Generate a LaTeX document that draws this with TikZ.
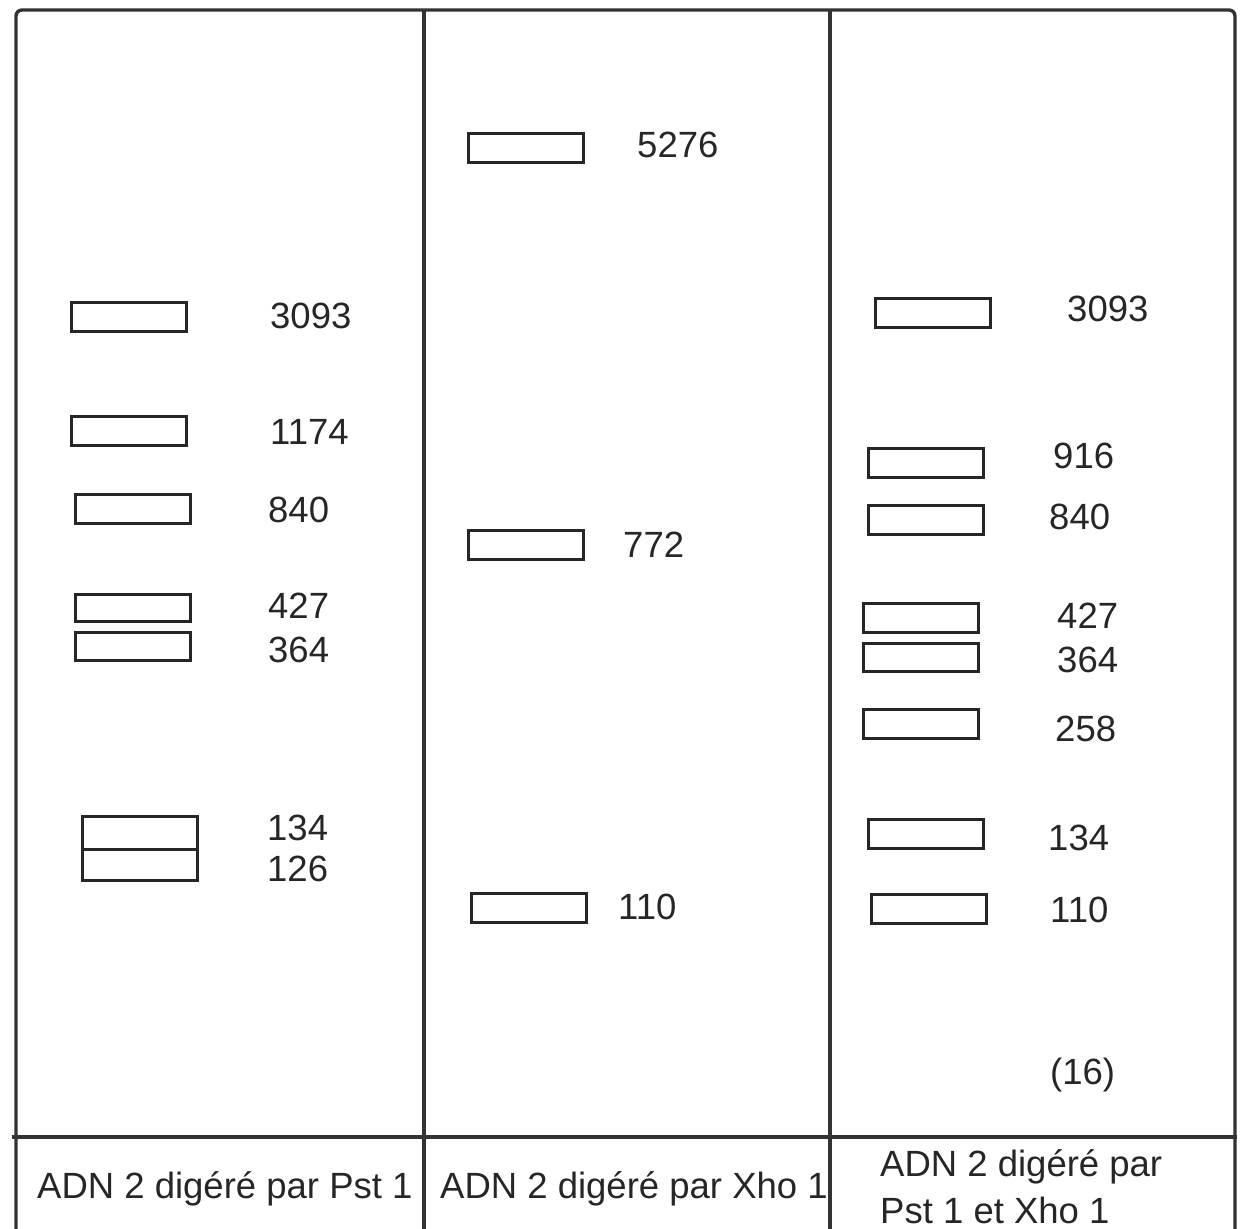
\documentclass[tikz,border=0pt]{standalone}
\usepackage{fontspec}
\setmainfont{Liberation Sans}
\begin{document}
\begin{tikzpicture}[x=1pt,y=-1pt,
  band/.style={draw=black!85,line width=3pt,minimum width=115pt,minimum height=29pt,inner sep=0pt,outer sep=0pt},
  num/.style={anchor=west,inner sep=0pt,font=\fontsize{36.5}{40}\selectfont,text=black!85},
  lab/.style={anchor=base west,inner sep=0pt,font=\fontsize{36.5}{42}\selectfont,text=black!85},
  frame/.style={line width=3.4pt,draw=black!80}]
\useasboundingbox (0,0) rectangle (1243,1229);
% frame
\coordinate (tl) at (16,10);
\coordinate (tr) at (1235,10);
\coordinate (bl) at (16,1229);
\coordinate (br) at (1235,1229);
\coordinate (d1t) at (424,10);
\coordinate (d1b) at (424,1229);
\coordinate (d2t) at (830,10);
\coordinate (d2b) at (830,1229);
\coordinate (hl) at (12,1137);
\coordinate (hr) at (1237,1137);
\draw[frame,rounded corners=6pt] (bl) -- (tl) -- (tr) -- (br);
\draw[frame] (d1t) -- (d1b);
\draw[frame] (d2t) -- (d2b);
\draw[frame] (hl) -- (hr);
% lane 1
\node[band] (a1) at (128.5,316.5) {};
\node[band] (a2) at (128.5,430.5) {};
\node[band] (a3) at (132.5,508.5) {};
\node[band,minimum height=27pt] (a4) at (132.5,607.5) {};
\node[band,minimum height=28pt] (a5) at (132.5,646) {};
\node[band,minimum height=33pt] (a6) at (139.5,832.5) {};
\node[band,minimum height=31pt] (a7) at (139.5,864.5) {};
\node[num] (la1) at (270,316) {3093};
\node[num] (la2) at (270,432) {1174};
\node[num] (la3) at (268,510) {840};
\node[num] (la4) at (268,606) {427};
\node[num] (la5) at (268,650) {364};
\node[num] (la6) at (267,828) {134};
\node[num] (la7) at (267,869) {126};
% lane 2
\node[band] (b1) at (525.5,148) {};
\node[band] (b2) at (525.5,544.5) {};
\node[band] (b3) at (528.5,908) {};
\node[num] (lb1) at (637,145) {5276};
\node[num] (lb2) at (623,545) {772};
\node[num] (lb3) at (618,907) {110};
% lane 3
\node[band] (c1) at (932.5,313) {};
\node[band] (c2) at (925.5,462.5) {};
\node[band] (c3) at (925.5,520) {};
\node[band] (c4) at (920.5,617.5) {};
\node[band,minimum height=28pt] (c5) at (920.5,657) {};
\node[band] (c6) at (920.5,724) {};
\node[band] (c7) at (925.5,834) {};
\node[band] (c8) at (928.5,908.5) {};
\node[num] (lc1) at (1067,309) {3093};
\node[num] (lc2) at (1053,456) {916};
\node[num] (lc3) at (1049,517) {840};
\node[num] (lc4) at (1057,616) {427};
\node[num] (lc5) at (1057,660) {364};
\node[num] (lc6) at (1055,729) {258};
\node[num] (lc7) at (1048,838) {134};
\node[num] (lc8) at (1050,910) {110};
\node[num] (lc9) at (1050,1075) {(16)};
% bottom labels
\node[lab] (t1) at (37,1198) {ADN 2 digéré par Pst 1};
\node[lab] (t2) at (440,1198) {ADN 2 digéré par Xho 1};
\node[lab] (t3a) at (880,1176) {ADN 2 digéré par};
\node[lab] (t3b) at (880,1223) {Pst 1 et Xho 1};
\end{tikzpicture}
\end{document}
